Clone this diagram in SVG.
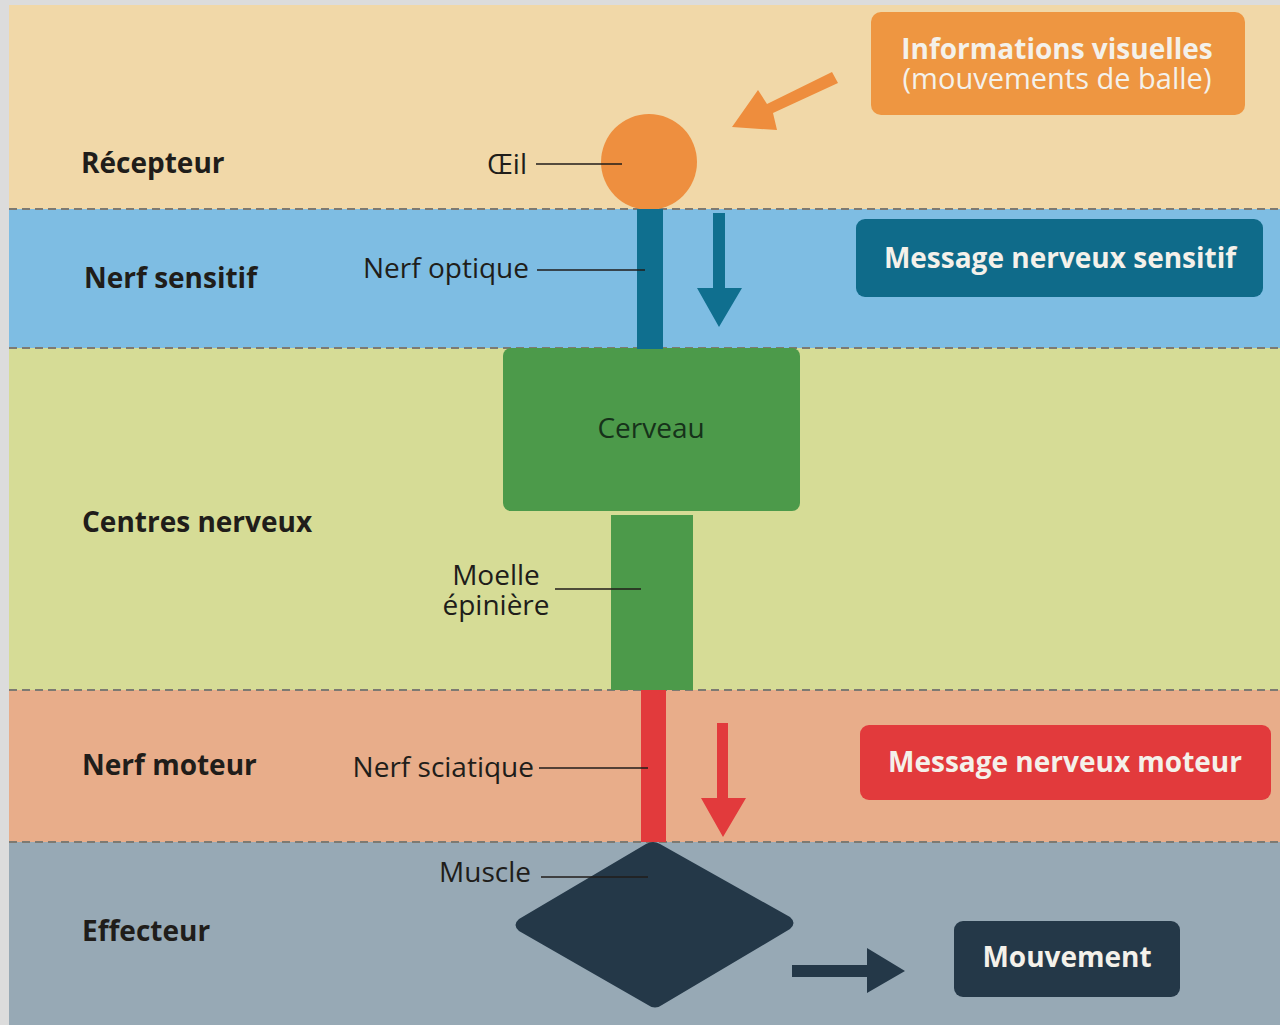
<svg xmlns="http://www.w3.org/2000/svg" width="1280" height="1025" viewBox="0 0 1280 1025">
  <style>
    .lbl { font-family: "Open Sans", "Noto Sans", "Liberation Sans", sans-serif; font-size: 28px; fill: #201d1a; }
    .b { font-weight: 700; }
    .wt { font-family: "Open Sans", "Noto Sans", "Liberation Sans", sans-serif; font-size: 28px; fill: #f4f1ea; font-weight: 700; text-anchor: middle; }
    .dash { stroke: #7d7a72; stroke-width: 2; stroke-dasharray: 8 5; fill: none; }
    .lead { stroke: #201d1a; stroke-width: 1.6; fill: none; }
  </style>
  <!-- frame -->
  <rect x="0" y="0" width="1280" height="1025" fill="#dcdcdc"/>
  <!-- bands -->
  <g id="bands">
    <rect x="9" y="5" width="1271" height="204" fill="#f1d8a8"/>
    <rect x="9" y="209" width="1271" height="139" fill="#7ebde3"/>
    <rect x="9" y="348" width="1271" height="342" fill="#d6dc96"/>
    <rect x="9" y="690" width="1271" height="152" fill="#e8ad8a"/>
    <rect x="9" y="842" width="1271" height="183" fill="#97a9b5"/>
    <line class="dash" x1="9" y1="209" x2="1280" y2="209"/>
    <line class="dash" x1="9" y1="348" x2="1280" y2="348"/>
    <line class="dash" x1="9" y1="690" x2="1280" y2="690"/>
    <line class="dash" x1="9" y1="842" x2="1280" y2="842"/>
  </g>
  <!-- row labels -->
  <g id="row-labels">
    <text class="lbl b" x="81" y="173">Récepteur</text>
    <text class="lbl b" x="84" y="288">Nerf sensitif</text>
    <text class="lbl b" x="82" y="532">Centres nerveux</text>
    <text class="lbl b" x="82" y="775">Nerf moteur</text>
    <text class="lbl b" x="82" y="941">Effecteur</text>
  </g>
  <!-- nodes -->
  <g id="node-info">
    <rect x="871" y="12" width="374" height="103" rx="10" fill="#ee9641"/>
    <text class="wt" x="1057" y="59">Informations visuelles<tspan x="1057" dy="30" style="font-weight:400;font-size:29px">(mouvements de balle)</tspan></text>
  </g>
  <g id="node-oeil">
    <circle cx="649" cy="162" r="48" fill="#ee8f3f"/>
    <text class="lbl" x="527" y="174" text-anchor="end">Œil</text>
  </g>
  <g id="node-nerf-optique">
    <text class="lbl" x="529" y="278" text-anchor="end">Nerf optique</text>
  </g>
  <g id="node-msg-sensitif">
    <rect x="856" y="219" width="407" height="78" rx="9" fill="#0f6b8a"/>
    <text class="wt" x="1060" y="268">Message nerveux sensitif</text>
  </g>
  <g id="node-cerveau">
    <rect x="503" y="348" width="297" height="163" rx="8" fill="#4c9a4a"/>
    <text class="lbl" x="651" y="438" text-anchor="middle" style="fill:#16321a">Cerveau</text>
  </g>
  <g id="node-moelle">
    <rect x="611" y="515" width="82" height="175" fill="#4c9a4a"/>
    <text class="lbl" x="496" y="585" text-anchor="middle">Moelle<tspan x="496" dy="30">épinière</tspan></text>
  </g>
  <g id="node-nerf-sciatique">
    <text class="lbl" x="534" y="777" text-anchor="end">Nerf sciatique</text>
  </g>
  <g id="node-msg-moteur">
    <rect x="860" y="725" width="411" height="75" rx="9" fill="#e23a3c"/>
    <text class="wt" x="1065" y="772">Message nerveux moteur</text>
  </g>
  <g id="node-muscle">
    <path d="M646,844 Q653,840 660,844 L790,917 Q797,923 790,929 L662,1005 Q655,1010 648,1005 L519,931 Q512,925 519,919 Z" fill="#243848"/>
    <text class="lbl" x="531" y="882" text-anchor="end">Muscle</text>
  </g>
  <g id="node-mouvement">
    <rect x="954" y="921" width="226" height="76" rx="9" fill="#243848"/>
    <text class="wt" x="1067" y="967">Mouvement</text>
  </g>
  <!-- connectors -->
  <g id="connectors">
    <rect x="637" y="209" width="26" height="140" fill="#0f6f8f"/>
    <rect x="641" y="690" width="25" height="152" fill="#e23a3c"/>
    <polygon points="713,213 725,213 725,288 742,288 719,327 697,288 713,288" fill="#0f6f8f"/>
    <polygon points="717,723 728,723 728,798 746,798 723,837 701,798 717,798" fill="#e23a3c"/>
    <polygon points="832,72 838,83 773,113 777,130 732,127 758,90 767,104" fill="#ee8d3d"/>
    <polygon points="792,965 867,965 867,948 905,971 867,993 867,977 792,977" fill="#243848"/>
    <line class="lead" x1="536" y1="164" x2="622" y2="164"/>
    <line class="lead" x1="537" y1="270" x2="645" y2="270"/>
    <line class="lead" x1="555" y1="589" x2="641" y2="589"/>
    <line class="lead" x1="539" y1="768" x2="648" y2="768"/>
    <line class="lead" x1="541" y1="877" x2="648" y2="877"/>
  </g>
</svg>
